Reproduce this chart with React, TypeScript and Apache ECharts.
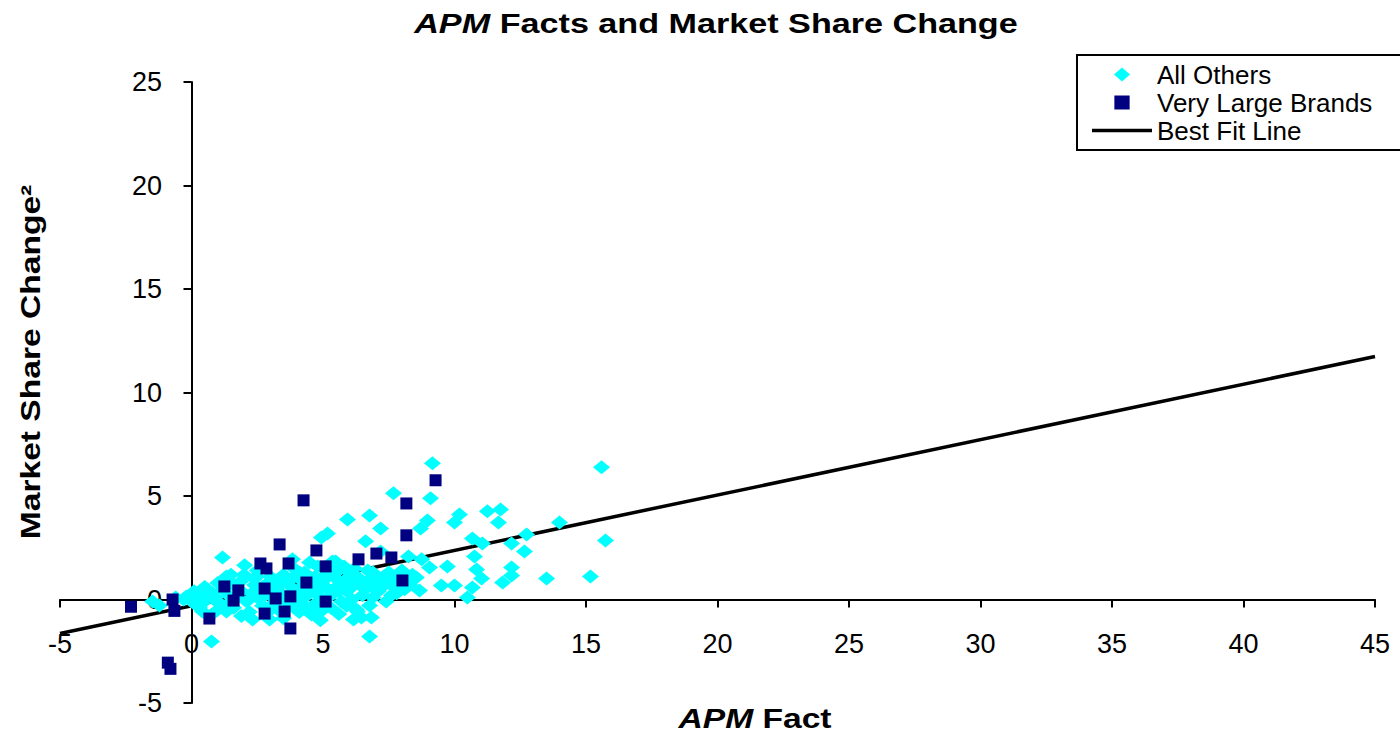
import React, { useEffect, useRef } from "react";
import * as echarts from "echarts";

const chartTitle = "{i|APM} Facts and Market Share Change";
const xAxisTitle = "{i|APM} Fact";
const yAxisTitle = "Market Share Change²";
const legendNames = ["All Others", "Very Large Brands", "Best Fit Line"];

// "All Others" points [APM fact, market share change]
const allOthers: number[][] = [
  [9.16, 6.58], [15.59, 6.39], [7.68, 5.13], [9.09, 4.89], [5.93, 3.87], [6.77, 4.06],
  [7.19, 3.43], [8.97, 3.82], [8.71, 3.43], [10.19, 4.11], [10.0, 3.72], [11.25, 4.26],
  [11.75, 4.35], [11.67, 3.72], [13.99, 3.72], [15.74, 2.85], [12.74, 3.14], [12.17, 2.71],
  [10.68, 2.95], [11.06, 2.71], [10.76, 2.08], [12.66, 2.32], [12.17, 1.55], [12.17, 1.16],
  [13.5, 1.02], [15.17, 1.11], [11.83, 0.82], [11.03, 1.02], [10.84, 1.45], [10.68, 0.58],
  [10.49, 0.1], [9.73, 1.6], [10.0, 0.68], [9.5, 0.68], [8.67, 0.44], [8.55, 1.06],
  [9.05, 1.55], [8.75, 1.94], [8.25, 2.08], [7.19, 2.32], [6.62, 2.81], [5.17, 3.19],
  [4.94, 3.0], [6.77, -1.79], [6.84, -0.87], [6.16, -0.97], [6.31, -0.58], [6.77, -0.29],
  [4.6, -0.63], [5.48, 1.84], [7.49, 0.87], [7.22, 0.58], [1.18, 2.03], [2.02, 1.65],
  [0.76, -2.03], [-1.48, -0.1], [-1.22, -0.29], [-0.19, 0.15], [0.38, 0.3], [-0.3, 0.0],
  [0.95, -0.1], [1.33, -0.58], [2.32, -0.97], [0.42, -0.58], [3.84, 1.94], [4.49, 1.79],
  [5.36, 1.84], [5.55, 1.35], [6.0, 1.3], [6.5, 0.63], [6.77, 0.97], [7.26, 0.63],
  [6.27, -0.48], [6.46, -0.87], [4.56, -0.73], [3.99, -0.48], [2.97, -0.97], [2.47, 1.11],
  [2.97, 0.87], [3.46, 0.82], [4.1, 1.3], [1.33, 1.11],
  [1.5, 1.2], [2.5, 1.4], [3.0, 1.1], [3.9, 1.5], [4.3, 1.3], [4.8, 1.6], [5.3, 1.4],
  [5.8, 1.6], [6.2, 1.5], [6.9, 1.3], [7.3, 1.1], [8.0, 1.4],
  [0.6, 0.5], [1.0, 0.8], [1.9, 0.9], [2.4, 0.7], [3.3, 0.9], [3.7, 0.7], [4.1, 1.0],
  [4.6, 0.8], [5.0, 0.9], [5.6, 0.7], [6.0, 1.0], [6.4, 0.8], [7.0, 0.7], [7.6, 0.9], [8.3, 0.7],
  [0.2, 0.2], [0.8, 0.3], [1.4, 0.2], [1.9, 0.4], [2.3, 0.3], [2.9, 0.5], [3.4, 0.3],
  [4.0, 0.4], [4.4, 0.2], [4.9, 0.5], [5.4, 0.3], [5.9, 0.4], [6.5, 0.2], [7.1, 0.4],
  [7.8, 0.3], [8.1, 0.5],
  [-0.6, 0.1], [0.0, -0.1], [0.5, 0.0], [1.1, -0.2], [1.7, 0.1], [2.1, -0.1], [2.6, 0.0],
  [3.1, -0.2], [3.6, -0.1], [4.2, 0.0], [4.7, -0.2], [5.2, 0.1], [5.7, -0.1], [6.1, 0.0], [7.4, -0.1],
  [0.3, -0.4], [1.0, -0.5], [1.6, -0.4], [2.2, -0.6], [2.7, -0.3], [3.3, -0.5], [4.1, -0.6],
  [5.3, -0.4], [5.6, -0.7], [0.7, -0.8], [1.9, -0.8], [3.5, -0.9], [4.9, -1.0],
  [0.1, 0.4], [0.5, 0.6], [0.9, 0.1], [1.2, 0.5], [1.6, 0.7], [0.4, -0.2], [1.3, -0.3],
  [2.0, 1.2], [2.4, 1.0], [2.7, 0.6], [3.1, 0.6], [3.5, 1.2], [3.8, 1.0], [2.5, 0.2],
  [3.0, 0.2], [3.8, 0.3], [2.9, -0.6], [3.9, -0.3],
  [4.3, 0.7], [4.7, 1.1], [5.1, 1.2], [5.5, 1.0], [5.8, 0.9], [4.5, 0.5], [5.1, 0.6],
  [5.6, 0.4], [6.1, 0.6], [4.3, -0.3], [5.0, -0.5], [4.8, 0.2], [5.9, -0.3],
  [6.3, 1.1], [6.7, 1.4], [7.1, 1.0], [7.5, 1.3], [7.9, 1.1], [8.4, 1.2], [6.6, 0.5],
  [7.3, 0.8], [7.7, 0.6], [8.2, 1.0], [6.9, 0.1], [7.6, 0.2],
];

// "Very Large Brands" points
const veryLargeBrands: number[][] = [
  [-2.3, -0.35], [-0.72, 0.0], [-0.65, -0.55], [-0.9, -3.05], [-0.8, -3.35], [0.68, -0.92],
  [1.25, 0.63], [1.78, 0.44], [1.6, -0.05], [2.62, 1.74], [2.85, 1.5], [2.78, 0.53],
  [3.2, 0.05], [2.78, -0.68], [3.54, -0.58], [3.76, -1.4], [3.76, 0.15], [3.69, 1.74],
  [3.35, 2.66], [4.26, 4.79], [4.37, 0.82], [4.75, 2.37], [5.1, 1.6], [5.1, -0.1],
  [6.35, 1.94], [7.03, 2.22], [7.6, 2.03], [8.02, 0.92], [8.17, 3.1], [8.17, 4.64], [9.28, 5.76],
];

// Best fit line end points
const fitX = [-5, 45];
const fitY = [-1.64, 11.74];

const FONT = "'Liberation Sans', Arial, sans-serif";

export default function App() {
  const ref = useRef<HTMLDivElement>(null);
  useEffect(() => {
    if (!ref.current) return;
    const chart = echarts.init(ref.current, undefined, { renderer: "svg" });
    const richTitle = {
      i: { fontStyle: "italic", fontWeight: "bold", fontSize: 28, fontFamily: FONT, fill: "#000" },
    };
    const xRange = { type: "value", min: -5, max: 45, interval: 5 };
    const yRange = { type: "value", min: -5, max: 25, interval: 5 };
    const labelStyle = { color: "#000", fontSize: 27, margin: 30, fontFamily: FONT };
    chart.setOption({
      animation: false,
      backgroundColor: "#fff",
      textStyle: { fontFamily: FONT },
      grid: { left: 60, right: 25, top: 82, bottom: 31, containLabel: false, outerBoundsMode: "none" },
      xAxis: [
        {
          ...xRange,
          axisLine: { onZero: true, lineStyle: { color: "#000", width: 2 } },
          axisTick: { show: true, inside: false, length: 8, lineStyle: { color: "#000", width: 2 } },
          axisLabel: { show: false },
          splitLine: { show: false },
        },
        {
          ...xRange,
          position: "bottom",
          offset: -103,
          axisLine: { show: false, onZero: false },
          axisTick: { show: false },
          axisLabel: labelStyle,
          splitLine: { show: false },
        },
      ],
      yAxis: [
        {
          ...yRange,
          axisLine: { onZero: true, lineStyle: { color: "#000", width: 2 } },
          axisTick: { show: true, inside: false, length: 8, lineStyle: { color: "#000", width: 2 } },
          axisLabel: { show: false },
          splitLine: { show: false },
        },
        {
          ...yRange,
          position: "left",
          offset: -132,
          axisLine: { show: false, onZero: false },
          axisTick: { show: false },
          axisLabel: labelStyle,
          splitLine: { show: false },
        },
      ],
      legend: {
        orient: "vertical",
        left: 1077,
        top: 55,
        padding: [6, 30, 6, 15],
        itemGap: 1,
        itemWidth: 60,
        itemHeight: 14,
        symbolKeepAspect: true,
        borderColor: "#000",
        borderWidth: 2,
        backgroundColor: "#fff",
        data: [
          { name: legendNames[0], icon: "path://M8,0L16,7L8,14L0,7Z" },
          { name: legendNames[1], icon: "path://M0,0h12v11h-12z" },
          { name: legendNames[2], icon: "path://M0,0h60v3.5h-60z" },
        ],
        textStyle: { color: "#000", fontSize: 26, lineHeight: 27, fontFamily: FONT },
      },
      graphic: [
        {
          type: "text",
          x: 716,
          y: 24,
          scaleX: 1.22,
          style: {
            text: chartTitle,
            rich: richTitle,
            fontSize: 28,
            fontWeight: "bold",
            fontFamily: FONT,
            fill: "#000",
            align: "center",
            verticalAlign: "middle",
          },
        },
        {
          type: "text",
          x: 755,
          y: 718,
          scaleX: 1.2,
          style: {
            text: xAxisTitle,
            rich: richTitle,
            fontSize: 28,
            fontWeight: "bold",
            fontFamily: FONT,
            fill: "#000",
            align: "center",
            verticalAlign: "middle",
          },
        },
        {
          type: "text",
          x: 30,
          y: 362,
          rotation: Math.PI / 2,
          scaleX: 1.2,
          style: {
            text: yAxisTitle,
            fontSize: 28,
            fontWeight: "bold",
            fontFamily: FONT,
            fill: "#000",
            align: "center",
            verticalAlign: "middle",
          },
        },
      ],
      series: [
        {
          name: legendNames[0],
          type: "scatter",
          symbol: "diamond",
          symbolSize: [17, 14],
          itemStyle: { color: "#00FFFF", opacity: 1 },
          data: allOthers,
          z: 3,
        },
        {
          name: legendNames[1],
          type: "scatter",
          symbol: "rect",
          symbolSize: 12,
          itemStyle: { color: "#000080", opacity: 1 },
          data: veryLargeBrands,
          z: 4,
        },
        {
          name: legendNames[2],
          type: "line",
          symbol: "none",
          lineStyle: { color: "#000", width: 3.5 },
          itemStyle: { color: "#000" },
          data: fitX.map((x, i) => [x, fitY[i]]),
          z: 2,
        },
      ],
    });
    return () => chart.dispose();
  }, []);
  return (
    <div
      ref={ref}
      style={{ position: "fixed", left: 0, top: 0, width: 1400, height: 734, background: "#fff" }}
    />
  );
}
